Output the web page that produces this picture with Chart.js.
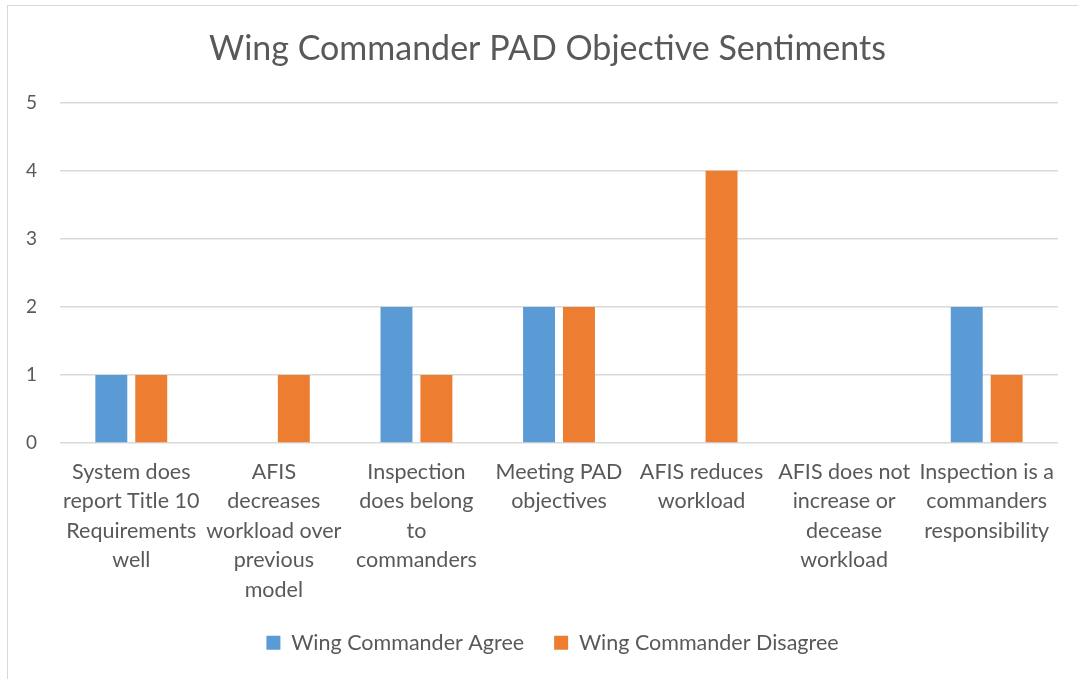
<!DOCTYPE html>
<html>
<head>
<meta charset="utf-8">
<script src="https://cdn.jsdelivr.net/npm/chart.js@4"></script>
<style>
  body { margin: 0; background: #fff; overflow: hidden; }
  #wrap { position: relative; width: 1078px; height: 679px; }
  #frame { position: absolute; left: 7px; top: 5px; width: 1100px; height: 700px; border: 1px solid #d9d9d9; pointer-events: none; }
</style>
</head>
<body>
<div id="wrap">
  <canvas id="chart" width="1078" height="679"></canvas>
  <div id="frame"></div>
</div>
<script>
const categories = [
  ['System does', 'report Title 10', 'Requirements', 'well'],
  ['AFIS', 'decreases', 'workload over', 'previous', 'model'],
  ['Inspection', 'does belong', 'to', 'commanders'],
  ['Meeting PAD', 'objectives'],
  ['AFIS reduces', 'workload'],
  ['AFIS does not', 'increase or', 'decease', 'workload'],
  ['Inspection is a', 'commanders', 'responsibility']
];
const agreeValues = [1, 0, 2, 2, 0, 0, 2];
const disagreeValues = [1, 1, 1, 2, 4, 0, 1];
const yTicks = [0, 1, 2, 3, 4, 5];

const textColor = '#595959';
const fontName = 'Lato, Carlito, Calibri, sans-serif';

// the original frame runs past the right edge, so title and legend sit a bit right of the canvas centre
const shiftBlocks = {
  id: 'shiftBlocks',
  afterLayout(chart) {
    if (chart.titleBlock) chart.titleBlock.left = 37;
    if (chart.legend) chart.legend.left = 47;
  }
};

const chart = new Chart(document.getElementById('chart'), {
  type: 'bar',
  data: {
    labels: categories,
    datasets: [
      {
        label: 'Wing Commander Agree',
        data: agreeValues,
        backgroundColor: '#5b9bd5',
        categoryPercentage: 0.56,
        barPercentage: 0.8
      },
      {
        label: 'Wing Commander Disagree',
        data: disagreeValues,
        backgroundColor: '#ed7d31',
        categoryPercentage: 0.56,
        barPercentage: 0.8
      }
    ]
  },
  plugins: [shiftBlocks],
  options: {
    responsive: false,
    animation: false,
    layout: { padding: { left: 0, right: 20, top: 0, bottom: 15.5 } },
    plugins: {
      title: {
        display: true,
        text: 'Wing Commander PAD Objective Sentiments',
        color: textColor,
        font: { family: fontName, size: 34, weight: 'normal' },
        padding: { top: 29, bottom: 33 }
      },
      legend: {
        position: 'bottom',
        labels: {
          color: textColor,
          font: { family: fontName, size: 21.5 },
          boxWidth: 14,
          boxHeight: 14,
          padding: 30
        }
      },
      tooltip: { enabled: false }
    },
    scales: {
      x: {
        afterFit: (scale) => { scale.height = 159; },
        grid: { display: false, drawTicks: false },
        border: { display: false },
        ticks: {
          color: textColor,
          font: { family: fontName, size: 21.5, lineHeight: 1.372 },
          maxRotation: 0,
          autoSkip: false,
          padding: 14
        }
      },
      y: {
        min: 0,
        max: 5,
        afterFit: (scale) => { scale.width = 60; },
        afterBuildTicks: (scale) => { scale.ticks = yTicks.map(v => ({ value: v })); },
        grid: { color: '#d9d9d9', lineWidth: 1.5, drawTicks: false },
        border: { display: false },
        ticks: {
          color: textColor,
          font: { family: fontName, size: 19 },
          padding: 23
        }
      }
    }
  }
});
</script>
</body>
</html>
